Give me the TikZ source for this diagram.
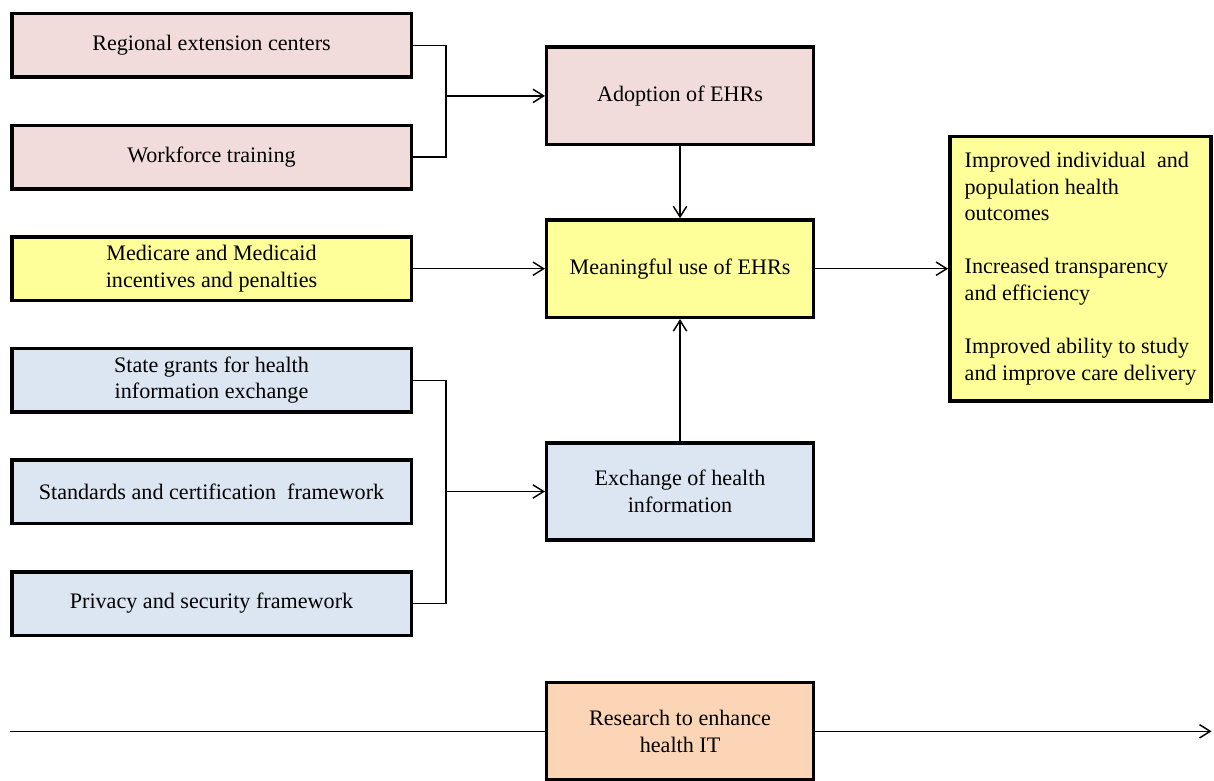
\documentclass[tikz,border=0pt]{standalone}
\usepackage{fontspec}
\setmainfont{Liberation Serif}
\newfontfamily\boxfont{Liberation Serif}
\usepackage{xcolor}
\usetikzlibrary{arrows.meta,positioning}

\definecolor{pinkbox}{HTML}{F2DCDB}
\definecolor{yellowbox}{HTML}{FFFF99}
\definecolor{bluebox}{HTML}{DCE6F2}
\definecolor{orangebox}{HTML}{FBD5B5}

\begin{document}
\begin{tikzpicture}[
    x=0.75pt, y=-0.75pt,
    node distance=33.5pt and 99pt,
    >={Straight Barb[length=8pt,width=10pt]},
    font=\boxfont\fontsize{16.6}{19.9}\selectfont,
    sidebox/.style={rectangle, draw, line width=2.6pt, minimum width=299.6pt, minimum height=47.6pt, align=center, inner sep=2pt},
    midbox/.style={rectangle, draw, line width=2.6pt, minimum width=200pt, minimum height=73pt, align=center, inner sep=2pt},
    link/.style={line width=1.1pt},
    arrow/.style={link, ->}
]
    \useasboundingbox (0,0) rectangle (1214,781);

    % Left column
    \node[sidebox, fill=pinkbox] (reg) at (211.5,45.5) {Regional extension centers};
    \node[sidebox, fill=pinkbox, below=of reg] (wf) {Workforce training};
    \node[sidebox, fill=yellowbox, below=of wf] (med) {Medicare and Medicaid\\incentives and penalties};
    \node[sidebox, fill=bluebox, below=of med] (sg) {State grants for health\\information exchange};
    \node[sidebox, fill=bluebox, below=of sg] (std) {Standards and certification\ \ framework};
    \node[sidebox, fill=bluebox, below=of std] (priv) {Privacy and security framework};

    % Middle column
    \node[midbox, fill=yellowbox, right=of med] (mean) {Meaningful use of EHRs};
    \node[midbox, fill=pinkbox, above=54pt of mean] (adopt) {Adoption of EHRs};
    \node[midbox, fill=bluebox, below=91.5pt of mean] (exch) {Exchange of health\\information};
    \node[midbox, fill=orangebox, below=104.25pt of exch] (res) {Research to enhance\\health IT};

    % Outcomes
    \node[rectangle, draw, line width=2.6pt, fill=yellowbox, minimum width=196pt, minimum height=198.4pt,
          align=left, inner sep=2pt, right=99.75pt of mean] (out)
        {Improved individual\ \ and\\population health\\outcomes\\[19.9pt]Increased transparency\\and efficiency\\[19.9pt]Improved ability to study\\and improve care delivery};

    % Brackets
    \coordinate (jx) at ([xshift=24.75pt]reg.east);
    \draw[link] (reg.east) -- (jx) |- (wf.east);
    \draw[arrow] (adopt.west -| jx) -- (adopt.west);
    \draw[link] (sg.east) -- (sg.east -| jx) |- (priv.east);
    \draw[arrow] (exch.west -| jx) -- (exch.west);

    % Arrows
    \draw[arrow] (adopt) -- (mean);
    \draw[arrow] (exch) -- (mean);
    \draw[arrow] (med) -- (mean);
    \draw[arrow] (mean) -- (mean -| out.west);

    % Timeline
    \draw[link] (res.west -| reg.west) -- (res.west);
    \draw[arrow] (res.east) -- ([xshift=-1pt]res.east -| out.east);
\end{tikzpicture}
\end{document}
